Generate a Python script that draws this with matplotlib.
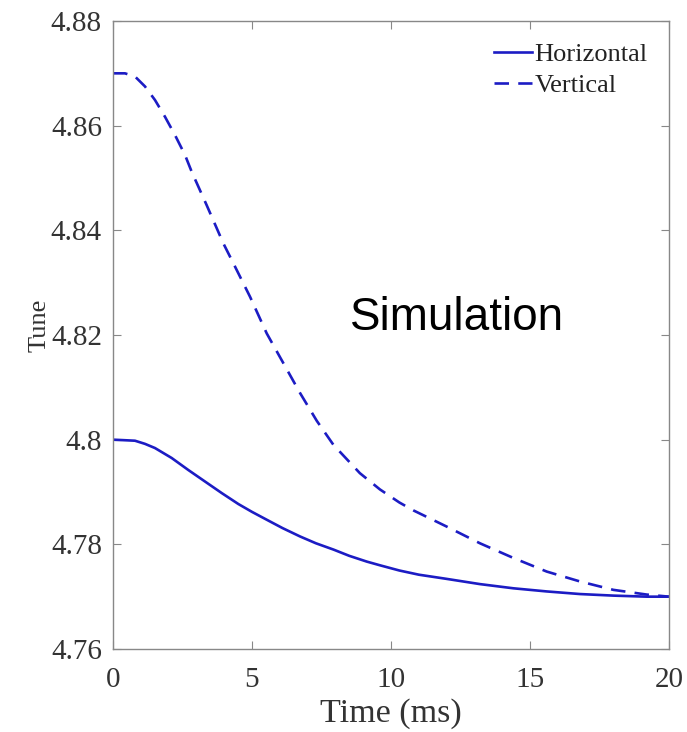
import matplotlib
matplotlib.use("Agg")
import matplotlib.pyplot as plt
from matplotlib.ticker import FuncFormatter

# values
t_h = [0, 0.4, 0.79, 1.15, 1.51, 2.11, 2.71, 3.31, 3.91, 4.51, 5.0, 5.53, 6.1, 6.73,
       7.3, 7.93, 8.5, 9.13, 9.6, 10.3, 11.0, 12.0, 13.2, 14.4, 15.6, 16.8, 18.0, 19.2, 20]
tune_h = [4.8000, 4.7999, 4.7998, 4.7992, 4.7984, 4.7965, 4.7942, 4.7920, 4.7898,
          4.7877, 4.7862, 4.7847, 4.7831, 4.7815, 4.7802, 4.7790, 4.7778, 4.7767,
          4.7760, 4.7750, 4.7742, 4.7734, 4.7724, 4.7716, 4.7710, 4.7705, 4.7702,
          4.7700, 4.7700]

t_v = [0, 0.43, 0.79, 1.15, 1.51, 1.87, 2.23, 2.59, 2.83, 3.37, 3.97, 4.33, 4.93,
       5.53, 6.13, 6.73, 7.33, 7.93, 8.88, 9.6, 10.3, 10.8, 12.0, 13.2, 14.4, 15.6,
       16.8, 18.0, 19.2, 20]
tune_v = [4.8700, 4.8700, 4.8694, 4.8675, 4.8649, 4.8617, 4.8582, 4.8544, 4.8512,
          4.8448, 4.8375, 4.8337, 4.8273, 4.8203, 4.8146, 4.8089, 4.8036, 4.7990,
          4.7936, 4.7905, 4.7880, 4.7865, 4.7834, 4.7802, 4.7774, 4.7748, 4.7729,
          4.7713, 4.7704, 4.7700]

xticks = [0, 5, 10, 15, 20]
yticks = [4.76, 4.78, 4.80, 4.82, 4.84, 4.86, 4.88]

blue = "#1c1cc4"
serif = "Liberation Serif"

fig = plt.figure(figsize=(6.87, 7.32), dpi=100)
ax = fig.add_axes([113 / 687, 83 / 732, 556 / 687, 628 / 732])

ax.plot(t_h, tune_h, color=blue, lw=1.9, label="Horizontal")
ax.plot(t_v, tune_v, color=blue, lw=1.9, ls=(0, (5.5, 3.5)), label="Vertical")

ax.set_xlim(0, 20)
ax.set_ylim(4.76, 4.88)
ax.set_xticks(xticks)
ax.set_yticks(yticks)
ax.yaxis.set_major_formatter(FuncFormatter(lambda v, p: "%g" % round(v, 2)))

for s in ax.spines.values():
    s.set_color("#888888")
    s.set_linewidth(1.0)
ax.tick_params(direction="in", length=6, width=0.8, color="#888888",
               top=True, right=True, labelcolor="#333333", labelsize=21, pad=8)
ax.tick_params(axis="x", pad=13)
for lab in ax.get_xticklabels() + ax.get_yticklabels():
    lab.set_family(serif)

ax.set_xlabel("Time (ms)", family=serif, fontsize=24.5, color="#333333", labelpad=4)
ax.set_ylabel("Tune", family=serif, fontsize=19, color="#333333", labelpad=0)
ax.yaxis.set_label_coords(-0.112, 0.515)

ax.text(12.37, 4.8233, "Simulation", family="Liberation Sans", fontsize=33,
        ha="center", va="center", color="black")

leg = ax.legend(loc="upper right", frameon=False, prop={"family": serif, "size": 19},
                handlelength=1.45, handletextpad=0.1, labelspacing=0.3,
                borderaxespad=0.3, bbox_to_anchor=(0.995, 0.995))
for txt in leg.get_texts():
    txt.set_color("#222222")

fig.savefig("out.png", dpi=100)
